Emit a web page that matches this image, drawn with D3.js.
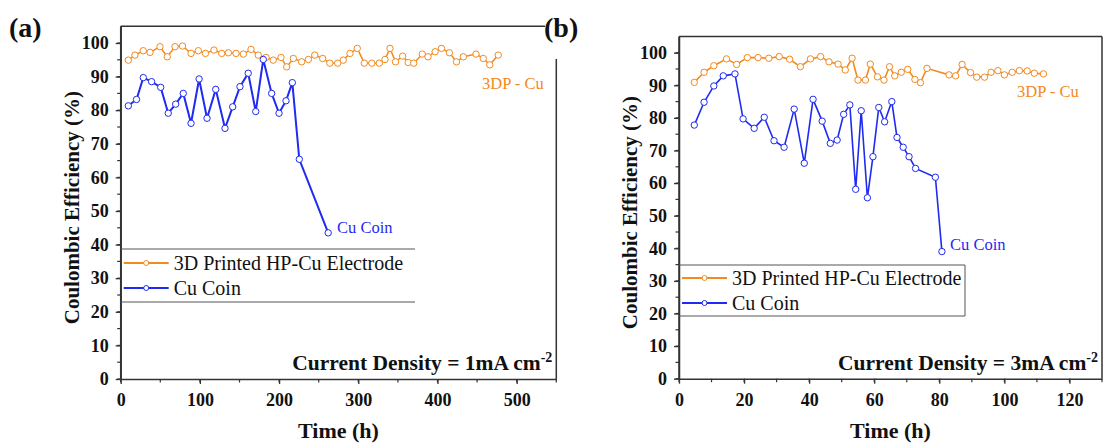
<!doctype html>
<html lang="en">
<head>
    <meta charset="utf-8">
    <title>Coulombic Efficiency</title>
    <script src="https://cdnjs.cloudflare.com/ajax/libs/d3/7.8.5/d3.min.js" type="text/JavaScript"></script>
    <style>
        body { margin: 0; background: white; }
    </style>
</head>
<body>
<script>

    // Panel (a) - 1 mA cm-2
    const timeA3DP = [9.6, 18, 28.5, 37, 49.6, 58.8, 68.6, 78, 88.8, 98, 107, 117.8, 127.5, 136, 145.6, 154.8, 164.5, 173.7,
        183.5, 192.7, 202.4, 209.6, 218, 228.5, 237, 245, 255, 264, 274, 281, 289.5, 298.7, 307.6, 317, 326.5, 333.7,
        340, 347, 356, 363, 370, 380.8, 388, 397, 405, 415, 424, 432.6, 448.6, 457.8, 466, 476.7];
    const ceA3DP = [94.9, 96.4, 97.7, 97.2, 98.9, 95.9, 98.9, 99.1, 96.9, 97.7, 96.9, 97.9, 96.9, 97.1, 96.9, 96.7, 98.1, 96.4,
        95.7, 94.9, 95.7, 92.9, 95.4, 94.4, 95.1, 96.4, 95.4, 94.0, 94.0, 94.9, 96.9, 98.4, 94.0, 94.0, 94.0, 95.1,
        98.4, 94.4, 96.1, 94.2, 94.0, 96.7, 95.9, 97.4, 98.4, 97.1, 94.4, 95.9, 96.7, 95.4, 93.5, 96.4];
    const timeACu = [9.6, 20, 28.5, 39, 50.5, 60, 69.4, 79, 88.8, 99, 109, 120, 131.7, 141.4, 150.6, 161, 170.5, 180,
        190.6, 199.9, 208.7, 216.7, 225.5, 262];
    const ceACu = [81.3, 83.2, 89.7, 88.5, 86.8, 79.1, 81.8, 85.0, 76.1, 89.3, 77.6, 86.2, 74.6, 81.0, 87.0, 91.0, 79.6, 95.1,
        85.0, 79.1, 82.8, 88.2, 65.4, 43.5];

    // Panel (b) - 3 mA cm-2
    const timeB3DP = [4.7, 7.7, 10.7, 14.6, 17.7, 21, 24.3, 27.6, 30.8, 34, 37.3, 40.4, 43.5, 46.1, 48.9, 51.1, 53.2, 55,
        57.3, 58.8, 61, 63, 64.7, 66.3, 68.3, 70.3, 72.5, 74.2, 76.2, 83, 85, 87, 89.6, 91.5, 93.9, 95.9, 98, 100,
        102.4, 104.6, 107, 109.2, 112];
    const ceB3DP = [90.9, 94.0, 96.0, 98.1, 96.4, 98.5, 98.5, 98.3, 98.8, 98.0, 95.7, 98.1, 98.8, 97.2, 96.5, 94.7, 98.3, 91.6,
        91.6, 96.5, 92.6, 91.6, 95.7, 92.9, 94.0, 94.9, 91.8, 90.8, 95.2, 93.2, 92.9, 96.4, 93.9, 92.5, 92.5, 94.0, 94.5, 93.2,
        94.0, 94.5, 94.4, 93.7, 93.5];
    const timeBCu = [4.7, 7.7, 10.7, 13.6, 17.2, 19.7, 23.1, 26.2, 29.2, 32.3, 35.4, 38.5, 41.2, 44, 46.5, 48.6, 50.6, 52.5,
        54.3, 56, 57.9, 59.6, 61.4, 63.2, 65.4, 67, 68.9, 70.7, 72.7, 78.8, 80.8];
    const ceBCu = [77.8, 84.8, 89.8, 92.9, 93.5, 79.7, 76.8, 80.2, 73.0, 71.0, 82.7, 66.1, 85.7, 79.0, 72.2, 73.2, 81.1, 84.0,
        58.1, 82.2, 55.5, 68.1, 83.2, 78.8, 85.0, 74.0, 71.0, 68.1, 64.5, 61.8, 39.0];

    const yTicks = [0, 10, 20, 30, 40, 50, 60, 70, 80, 90, 100];
    const xTicksA = [0, 100, 200, 300, 400, 500];
    const xTicksB = [0, 20, 40, 60, 80, 100, 120];
    const seriesNames = ["3D Printed HP-Cu Electrode", "Cu Coin"];

    const orange = "#f28a1e";
    const blue = "#1f2bf0";
    const axisColor = "#333";
    const serif = "'Liberation Serif', 'Times New Roman', Times, serif";

    const svg = d3.select("body").append("svg")
        .attr("width", 1103)
        .attr("height", 443)
        .style("font-family", serif);

    function drawPanel(p) {
        const x = d3.scaleLinear().domain([0, p.xMax]).range([p.left, p.right]);
        const y = d3.scaleLinear().domain([0, 105]).range([p.bottom, p.top]);
        const g = svg.append("g");

        // minor ticks
        const xMinor = d3.range(0, p.xMax + 0.01, p.xMinorStep);
        g.selectAll(".xminor").data(xMinor).join("line")
            .attr("x1", d => x(d)).attr("x2", d => x(d))
            .attr("y1", p.bottom).attr("y2", p.bottom + 3.5)
            .attr("stroke", axisColor).attr("stroke-width", 1.2);
        const yMinor = d3.range(0, 101, 5);
        g.selectAll(".yminor").data(yMinor).join("line")
            .attr("x1", p.left - 3.5).attr("x2", p.left)
            .attr("y1", d => y(d)).attr("y2", d => y(d))
            .attr("stroke", axisColor).attr("stroke-width", 1.2);

        const xAxis = g.append("g")
            .attr("transform", `translate(0,${p.bottom})`)
            .call(d3.axisBottom(x).tickValues(p.xTicks).tickSize(5).tickSizeOuter(0));
        const yAxis = g.append("g")
            .attr("transform", `translate(${p.left},0)`)
            .call(d3.axisLeft(y).tickValues(yTicks).tickSize(5).tickSizeOuter(0));

        [xAxis, yAxis].forEach(a => {
            a.attr("font-family", null).style("font-family", serif);
            a.select(".domain").attr("stroke", axisColor).attr("stroke-width", 1.5);
            a.selectAll(".tick line").attr("stroke", axisColor).attr("stroke-width", 1.3);
            a.selectAll(".tick text")
                .attr("fill", "#111")
                .style("font-family", serif)
                .attr("font-weight", "bold")
                .attr("font-size", 18);
        });
        xAxis.selectAll(".tick text").attr("dy", "1.05em");
        yAxis.selectAll(".tick text").attr("x", -12);

        // frame
        g.append("line")
            .attr("x1", p.left).attr("x2", p.frameTopEnd)
            .attr("y1", p.top).attr("y2", p.top)
            .attr("stroke", axisColor).attr("stroke-width", 1.5);
        g.append("line")
            .attr("x1", p.left).attr("x2", p.left)
            .attr("y1", p.top).attr("y2", p.bottom)
            .attr("stroke", axisColor).attr("stroke-width", 1.5);
        g.append("line")
            .attr("x1", p.right).attr("x2", p.right)
            .attr("y1", p.frameRightStart).attr("y2", p.bottom)
            .attr("stroke", axisColor).attr("stroke-width", 1.5);

        // series
        const line = d3.line().x(d => x(d[0])).y(d => y(d[1]));
        p.series.forEach(s => {
            const pts = s.t.map((t, i) => [t, s.v[i]]);
            g.append("path").datum(pts)
                .attr("d", line)
                .attr("fill", "none")
                .attr("stroke", s.color)
                .attr("stroke-width", s.width);
            g.selectAll(null).data(pts).join("circle")
                .attr("cx", d => x(d[0]))
                .attr("cy", d => y(d[1]))
                .attr("r", 3.2)
                .attr("fill", "white")
                .attr("stroke", s.color)
                .attr("stroke-width", 1);
        });

        // legend
        const lg = p.legend;
        g.append("line").attr("x1", p.left).attr("x2", lg.right)
            .attr("y1", lg.top).attr("y2", lg.top).attr("stroke", "#555").attr("stroke-width", 1);
        g.append("line").attr("x1", p.left).attr("x2", lg.right)
            .attr("y1", lg.bottom).attr("y2", lg.bottom).attr("stroke", "#555").attr("stroke-width", 1);
        if (lg.box) {
            g.append("line").attr("x1", lg.right).attr("x2", lg.right)
                .attr("y1", lg.top).attr("y2", lg.bottom).attr("stroke", "#555").attr("stroke-width", 1);
        }
        p.series.forEach((s, i) => {
            const ly = lg.rows[i];
            g.append("line")
                .attr("x1", p.left + 3).attr("x2", p.left + 48)
                .attr("y1", ly).attr("y2", ly)
                .attr("stroke", s.color).attr("stroke-width", 2);
            g.append("circle")
                .attr("cx", p.left + 25.5).attr("cy", ly).attr("r", 2.5)
                .attr("fill", "white").attr("stroke", s.color).attr("stroke-width", 1);
            g.append("text")
                .attr("x", p.left + 53).attr("y", ly + 6.5)
                .attr("font-size", 20)
                .attr("fill", "#111")
                .text(seriesNames[i]);
        });

        // annotations
        g.append("text")
            .attr("x", p.lab3dp[0]).attr("y", p.lab3dp[1])
            .attr("font-size", 16.5).attr("fill", orange)
            .text("3DP - Cu");
        g.append("text")
            .attr("x", p.labCu[0]).attr("y", p.labCu[1])
            .attr("font-size", 16.5).attr("fill", blue)
            .text("Cu Coin");

        const cd = g.append("text")
            .attr("x", p.right - 4).attr("y", p.bottom - 9)
            .attr("text-anchor", "end")
            .attr("font-size", 21.5).attr("font-weight", "bold").attr("fill", "#111");
        cd.append("tspan").text(`Current Density = ${p.density}mA cm`);
        cd.append("tspan").attr("dy", -8).attr("font-size", 14).text("-2");

        // axis titles
        g.append("text")
            .attr("transform", `translate(${p.yLabelX},${(p.top + p.bottom) / 2 + 5}) rotate(-90)`)
            .attr("text-anchor", "middle")
            .attr("font-size", 21).attr("font-weight", "bold").attr("fill", "#111")
            .text("Coulombic Efficiency (%)");
        g.append("text")
            .attr("x", (p.left + p.right) / 2).attr("y", 438)
            .attr("text-anchor", "middle")
            .attr("font-size", 22).attr("font-weight", "bold").attr("fill", "#111")
            .text("Time (h)");

        g.append("text")
            .attr("x", p.tag[0]).attr("y", p.tag[1])
            .attr("font-size", 28).attr("font-weight", "bold").attr("fill", "#111")
            .text(p.tagText);
    }

    drawPanel({
        left: 120.7, right: 556.3, top: 26.2, bottom: 379,
        xMax: 550, xMinorStep: 50, xTicks: xTicksA,
        frameTopEnd: 545, frameRightStart: 59,
        series: [
            {t: timeA3DP, v: ceA3DP, color: orange, width: 1.5},
            {t: timeACu, v: ceACu, color: blue, width: 2}
        ],
        legend: {top: 249, bottom: 302, right: 415, rows: [263, 288], box: false},
        lab3dp: [482, 89], labCu: [337, 233],
        density: 1, yLabelX: 79,
        tag: [9, 37], tagText: "(a)"
    });

    drawPanel({
        left: 679, right: 1102, top: 36.4, bottom: 378.7,
        xMax: 130, xMinorStep: 10, xTicks: xTicksB,
        frameTopEnd: 1102, frameRightStart: 36.4,
        series: [
            {t: timeB3DP, v: ceB3DP, color: orange, width: 1.6},
            {t: timeBCu, v: ceBCu, color: blue, width: 1.6}
        ],
        legend: {top: 265, bottom: 316, right: 965, rows: [278, 303], box: true},
        lab3dp: [1017, 97], labCu: [950, 250],
        density: 3, yLabelX: 637,
        tag: [544, 37], tagText: "(b)"
    });

</script>
</body>
</html>
